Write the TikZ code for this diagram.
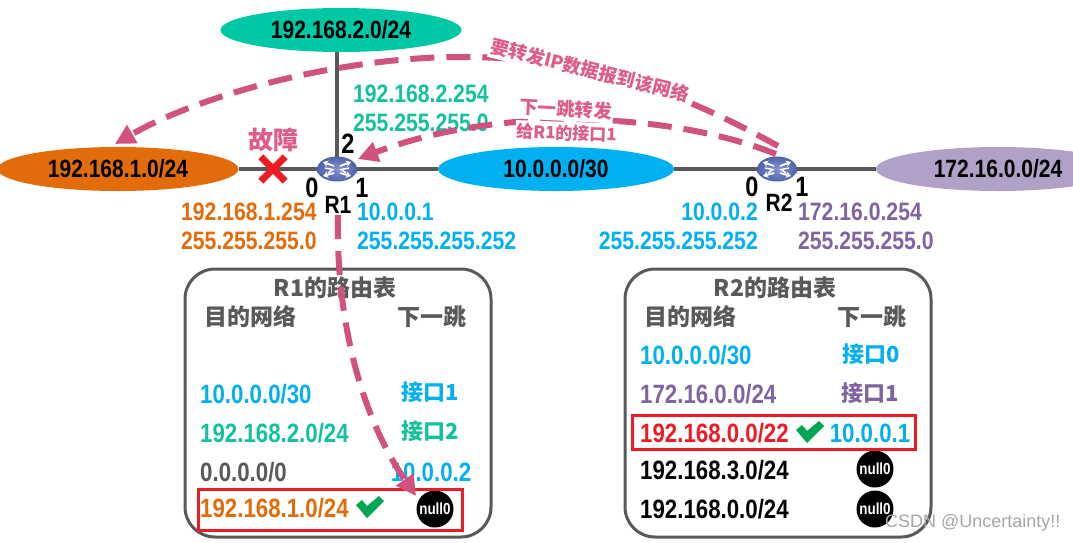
\documentclass[tikz,border=0pt]{standalone}
\usepackage{fontspec}
\setmainfont[FakeStretch=0.84]{Liberation Sans}
\newfontfamily\plainf{Liberation Sans}
\newfontfamily\cjk{Noto Sans CJK SC}
\usetikzlibrary{shapes.geometric,arrows.meta,backgrounds}
\definecolor{cteal}{HTML}{00C8A5}
\definecolor{ctealt}{HTML}{12C29C}
\definecolor{corange}{HTML}{E36C0A}
\definecolor{cblue}{HTML}{00B0F0}
\definecolor{cpurple}{HTML}{B1A0C7}
\definecolor{cpurplet}{HTML}{8064A2}
\definecolor{cgray}{HTML}{595959}
\definecolor{cpink}{HTML}{D2527F}
\definecolor{cpinkt}{HTML}{DE5C86}
\definecolor{cred}{HTML}{ED1C24}
\definecolor{cgreen}{HTML}{00A651}
\definecolor{rtop}{HTML}{8494D0}
\definecolor{redge}{HTML}{4F62AC}
\definecolor{rbase}{HTML}{3F4E90}
\tikzset{
 net/.style={ellipse,minimum height=44pt,inner sep=0pt,text=black,font=\fontsize{25}{25}\selectfont\bfseries},
 addr/.style={inner sep=0pt,anchor=west,font=\fontsize{25.2}{25}\selectfont\bfseries},
 addrr/.style={addr,anchor=east},
 rowtext/.style={addr,font=\fontsize{26.5}{26}\selectfont\bfseries},
 port/.style={inner sep=0pt,text=black,font=\fontsize{28}{28}\selectfont\bfseries},
 rname/.style={inner sep=0pt,text=black,font=\fontsize{25}{25}\selectfont\bfseries},
 link/.style={draw=cgray,line width=3.5pt},
 tablebox/.style={draw=cgray,line width=3pt,rounded corners=30pt,fill=white},
 thead/.style={inner sep=0pt,text=cgray,font=\fontsize{23}{24}\selectfont\cjk\bfseries},
 hop/.style={inner sep=0pt,font=\fontsize{22}{24}\selectfont\cjk\bfseries},
 pinklabel/.style={inner xsep=1pt,inner ysep=3pt,fill=white,text=cpinkt,font=\fontsize{18.5}{20}\selectfont\cjk\bfseries},
 flow/.style={draw=cpink,line width=6pt,dash pattern=on 24pt off 12pt,-{Triangle[length=20pt,width=20pt]}},
 nullnode/.style={circle,fill=black,minimum size=37pt,inner sep=0pt,text=white,font=\fontsize{16}{16}\selectfont\bfseries},
 hilite/.style={draw=cred,line width=3pt},
 routerbody/.style={ellipse,minimum width=40pt,minimum height=24pt,inner sep=0pt},
 routericon/.pic={
  \fill[rbase] (-20,0) -- (-20,6) arc[start angle=180,end angle=360,x radius=20,y radius=12] -- (20,0) -- cycle;
  \shade[inner color=rtop,outer color=redge] (0,0) ellipse[x radius=20,y radius=12.5];
  \draw[white,line width=1.8pt,-{Stealth[length=5pt,width=6.5pt]}] (-3,-3) -- (-14,-7);
  \draw[white,line width=1.8pt,-{Stealth[length=5pt,width=6.5pt]}] (3,-3) -- (14,-7);
  \draw[white,line width=1.8pt,-{Stealth[length=5pt,width=6.5pt]}] (-3,4) -- (-14,7);
  \draw[white,line width=1.8pt,-{Stealth[length=5pt,width=6.5pt]}] (3,4) -- (14,7);
  \draw[white,line width=1.4pt] (-12,-1) -- (-4,0.5) -- (-9,4);
  \draw[white,line width=1.4pt] (12,-1) -- (4,0.5) -- (9,4);
 },
 greencheck/.pic={
  \fill[cgreen] (-14,-2) -- (-8,-7) -- (-3,-1) -- (9,-11) -- (14,-6) -- (-3,11) -- cycle;
 }
}
\begin{document}
\begin{tikzpicture}[x=1pt,y=-1pt]
\useasboundingbox (0,0) rectangle (1073,542);
% networks
\node[net,fill=cteal,minimum width=241pt] (n2) at (341,30) {192.168.2.0/24};
\node[net,fill=corange,minimum width=241pt] (n1) at (118,169) {192.168.1.0/24};
\node[net,fill=cblue,minimum width=236pt] (n10) at (556,169) {10.0.0.0/30};
\node[net,fill=cpurple,minimum width=244pt] (n172) at (998,169) {172.16.0.0/24};
% routers
\node[routerbody] (r1) at (337,169) {};
\node[routerbody] (r2) at (777,169) {};
\begin{scope}[on background layer]
\draw[link] (r1.center |- n2.south) -- (r1.center);
\draw[link] (n1.east) -- (r1.center);
\draw[link] (r1.center) -- (n10.west);
\draw[link] (n10.east) -- (r2.center);
\draw[link] (r2.center) -- (n172.west);
\end{scope}
\pic at (r1.center) {routericon};
\pic at (r2.center) {routericon};
% labels of the routers
\node[port] (p12) at (348,144) {2};
\node[port] (p10) at (312,188) {0};
\node[port] (p11) at (362,188) {1};
\node[rname] (nr1) at (338,205) {R1};
\node[port] (p20) at (752,187) {0};
\node[port] (p21) at (802,187) {1};
\node[rname] (nr2) at (779,203) {R2};
% addresses
\node[addr,text=ctealt] (a1) at (353,94) {192.168.2.254};
\node[addr,text=ctealt] (a2) at (353,123) {255.255.255.0};
\node[addr,text=corange] (a3) at (181,212) {192.168.1.254};
\node[addr,text=corange] (a4) at (181,241) {255.255.255.0};
\node[addr,text=cblue] (a5) at (357,212) {10.0.0.1};
\node[addr,text=cblue] (a6) at (357,241) {255.255.255.252};
\node[addrr,text=cblue] (a7) at (758,212) {10.0.0.2};
\node[addrr,text=cblue] (a8) at (758,241) {255.255.255.252};
\node[addr,text=cpurplet] (a9) at (798,212) {172.16.0.254};
\node[addr,text=cpurplet] (a10) at (798,241) {255.255.255.0};
% fault
\node[inner sep=0pt,text=cpinkt,font=\fontsize{25}{25}\selectfont\cjk\bfseries] (fault) at (273,140) {故障};
\node[inner sep=0pt,minimum size=24pt] (xmark) at (273,169) {};
\draw[cred,line width=7pt] (xmark.north west) -- (xmark.south east) (xmark.north east) -- (xmark.south west);
% table R1
\node[tablebox,minimum width=306pt,minimum height=268pt] (t1) at (338,403) {};
\node[thead] (t1t) at (335,288) {R1的路由表};
\node[thead] (t1a) at (250,317) {目的网络};
\node[thead] (t1b) at (432,317) {下一跳};
\node[rowtext,text=cblue] (t1r1) at (200,394) {10.0.0.0/30};
\node[rowtext,text=ctealt] (t1r2) at (200,433) {192.168.2.0/24};
\node[rowtext,text=cgray] (t1r3) at (200,472) {0.0.0.0/0};
\node[rowtext,text=corange] (t1r4) at (200,508) {192.168.1.0/24};
\node[hop,text=cblue] (t1h1) at (430,392) {接口1};
\node[hop,text=ctealt] (t1h2) at (430,431) {接口2};
\node[rowtext,anchor=center,text=cblue] (t1h3) at (431,472) {10.0.0.2};
\node[nullnode] (t1n) at (435,509) {null0};
\node[hilite,minimum width=264pt,minimum height=41pt,inner sep=0pt] (t1box) at (330,509.5) {};
\pic at (370,507) {greencheck};
% table R2
\node[tablebox,minimum width=306pt,minimum height=268pt] (t2) at (778,403) {};
\node[thead] (t2t) at (775,288) {R2的路由表};
\node[thead] (t2a) at (690,317) {目的网络};
\node[thead] (t2b) at (872,317) {下一跳};
\node[rowtext,text=cblue] (t2r1) at (640,355) {10.0.0.0/30};
\node[rowtext,text=cpurplet] (t2r2) at (640,394) {172.16.0.0/24};
\node[rowtext,text=cred] (t2r3) at (640,433) {192.168.0.0/22};
\node[rowtext,text=black] (t2r4) at (640,470) {192.168.3.0/24};
\node[rowtext,text=black] (t2r5) at (640,509) {192.168.0.0/24};
\node[hop,text=cblue] (t2h1) at (871,354) {接口0};
\node[hop,text=cpurplet] (t2h2) at (870,393) {接口1};
\node[rowtext,anchor=center,text=cblue] (t2h3) at (870,433) {10.0.0.1};
\node[nullnode] (t2n1) at (875,469) {null0};
\node[nullnode] (t2n2) at (875,509) {null0};
\node[hilite,minimum width=283pt,minimum height=34pt,inner sep=0pt] (t2box) at (773.5,432) {};
\pic at (810,432) {greencheck};
% flows
\coordinate (fa) at (778,146);
\coordinate (fm) at (460,57);
\coordinate (fb) at (115,144);
\coordinate (fc) at (776,154);
\coordinate (fd) at (358,159);
\coordinate (fe) at (338,215);
\coordinate (ff) at (416,496);
\draw[flow] (fa) .. controls (650,75) and (560,57) .. (fm) .. controls (340,57) and (200,95) .. (fb);
\draw[flow] (fc) .. controls (670,112) and (500,105) .. (fd);
\draw[flow] (fe) .. controls (336,290) and (350,400) .. (ff);
% flow labels
\node[pinklabel,rotate=-14] (l1) at (590,70) {要转发IP数据报到该网络};
\node[pinklabel,rotate=-3] (l2) at (566,109) {下一跳转发};
\node[pinklabel,rotate=-2,font=\fontsize{17}{20}\selectfont\cjk\bfseries] (l3) at (567,133) {给R1的接口1};
% watermark
\node[inner sep=0pt,anchor=west,text=gray!70,font=\fontsize{18}{18}\selectfont\plainf] (wm) at (885,523) {CSDN @Uncertainty!!};
\end{tikzpicture}
\end{document}
